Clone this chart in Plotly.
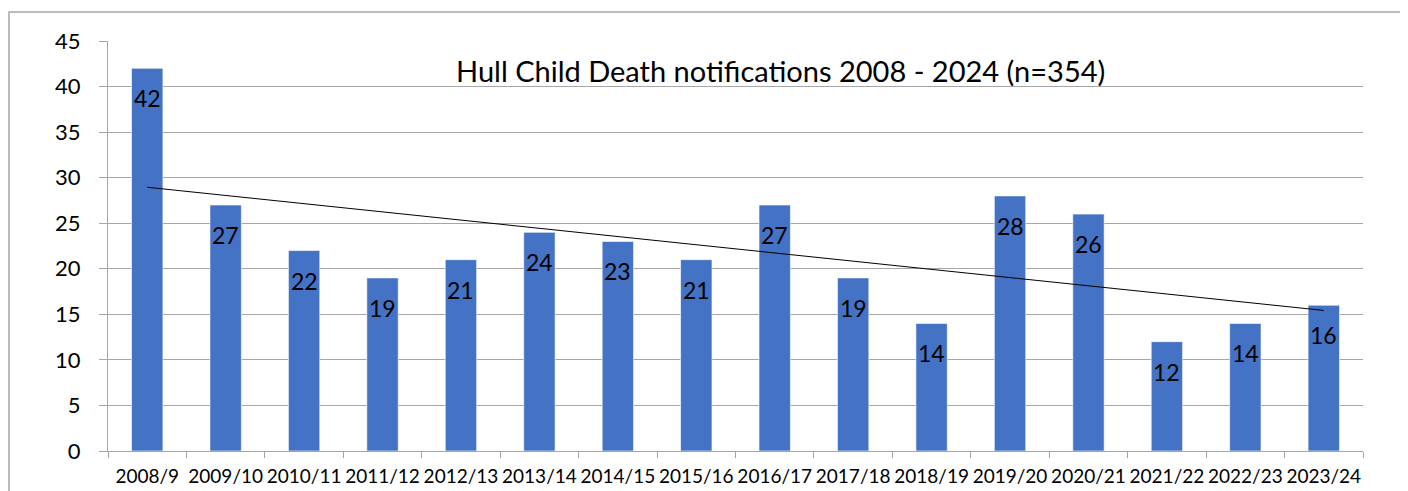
import numpy as np
import plotly.graph_objects as go

categories = ["2008/9", "2009/10", "2010/11", "2011/12", "2012/13", "2013/14", "2014/15", "2015/16",
              "2016/17", "2017/18", "2018/19", "2019/20", "2020/21", "2021/22", "2022/23", "2023/24"]
notifications = [42, 27, 22, 19, 21, 24, 23, 21, 27, 19, 14, 28, 26, 12, 14, 16]
title_text = "Hull Child Death notifications 2008 - 2024 (n=354)"
y_ticks = [0, 5, 10, 15, 20, 25, 30, 35, 40, 45]

FONT = "Lato, 'Open Sans', sans-serif"
GRID = "#a6a6a6"

# linear trendline fitted to the data
idx = np.arange(1, len(notifications) + 1)
slope, intercept = np.polyfit(idx, notifications, 1)
trend = slope * idx + intercept

fig = go.Figure()
fig.add_trace(go.Bar(
    x=categories, y=notifications,
    marker=dict(color="#4472C4", line=dict(color="rgba(255,255,255,0.6)", width=1)),
    hoverinfo="x+y", showlegend=False,
))
fig.add_trace(go.Scatter(
    x=[categories[0], categories[-1]], y=[trend[0], trend[-1]],
    mode="lines", line=dict(color="black", width=1), showlegend=False,
))

for c, v in zip(categories, notifications):
    fig.add_annotation(x=c, y=v, text=str(v), showarrow=False, yanchor="middle",
                       yshift=-30, font=dict(family=FONT, size=23, color="black"))

fig.add_annotation(xref="paper", yref="paper", x=0.5355, y=0.929, text=title_text,
                   showarrow=False, xanchor="center", yanchor="middle",
                   font=dict(family=FONT, size=29, color="black"))

# outer chart border (page body has an 8px margin; plot area spans page x 108-1363, y 41-451)
fig.add_shape(type="rect", xref="paper", yref="paper",
              x0=(9 - 108) / 1255, x1=(1405 - 108) / 1255,
              y0=-0.3, y1=(451 - 12) / 410,
              line=dict(color=GRID, width=1.5), layer="below")

fig.update_layout(
    width=1400, height=483,
    margin=dict(l=100, r=45, t=33, b=40, autoexpand=False),
    paper_bgcolor="white", plot_bgcolor="white",
    bargap=0.6,
    font=dict(family=FONT, color="black"),
)
fig.update_xaxes(
    type="category", showline=True, linecolor=GRID, linewidth=1,
    ticks="outside", tickson="boundaries", ticklen=6, tickcolor=GRID,
    tickangle=0, tickfont=dict(family=FONT, size=19, color="black"),
    ticklabelstandoff=8, showgrid=False, automargin=False,
)
fig.update_yaxes(
    range=[0, 45], tickvals=y_ticks, showline=True, linecolor=GRID, linewidth=1,
    ticks="outside", ticklen=8, tickcolor=GRID,
    showgrid=True, gridcolor=GRID, gridwidth=1, zeroline=False,
    tickfont=dict(family=FONT, size=22, color="black"), ticklabelstandoff=14,
    automargin=False,
)

fig.write_html("out.html")
